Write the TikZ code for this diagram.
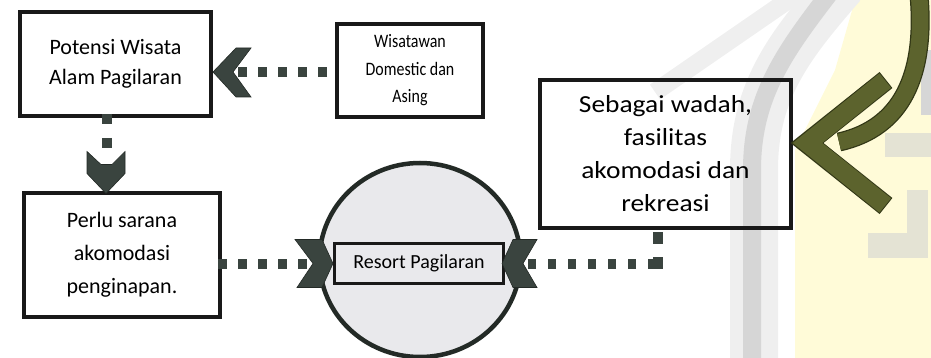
\documentclass[tikz,border=0pt]{standalone}
\usepackage{fontspec}
\setmainfont{Carlito}
\newfontfamily\widefont[FakeStretch=1.12]{Carlito}
\newfontfamily\narrowfont[FakeStretch=0.84]{Carlito}
\usetikzlibrary{calc,shapes.geometric}
\definecolor{chev}{RGB}{58,68,63}
\definecolor{chevdark}{RGB}{35,42,38}
\definecolor{olivec}{RGB}{92,99,45}
\definecolor{olivedark}{RGB}{50,55,22}
\definecolor{boxline}{RGB}{25,25,25}
\definecolor{circfill}{RGB}{233,233,236}
\definecolor{wmyellow}{RGB}{255,251,216}
\definecolor{wmgray}{RGB}{214,214,214}
\definecolor{wmlight}{RGB}{239,239,239}
\definecolor{wmtint}{RGB}{228,227,212}
\begin{document}
\begin{tikzpicture}[x=1pt,y=-1pt,
  box/.style={draw=boxline, line width=4pt, inner sep=0pt, align=center, text=black},
  dotline/.style={draw=chev, line width=10pt, dash pattern=on 9pt off 11pt},
  chevron/.style={fill=chev, draw=chevdark, line width=0.6pt, line join=miter},
  wmband/.style={line width=18pt, wmgray},
  wmwide/.style={line width=48pt, wmlight}]
\useasboundingbox (0,0) rectangle (931,358);
% watermark (background)
\fill[wmyellow] (855,0) -- (931,0) -- (931,358) -- (795,358) -- (795,150) -- (835,70) -- cycle;
\draw[wmwide] (842,-15) .. controls (790,45) and (754,90) .. (754,170) -- (754,370);
\draw[line width=18pt, wmlight] (655,92) -- (800,-8);
\draw[wmband] (832,-10) .. controls (786,50) and (752,95) .. (752,170) -- (752,370);
\fill[wmtint] (868,233) rectangle (928,258);
\fill[wmtint] (907,190) rectangle (928,240);
\fill[wmtint] (885,133) rectangle (931,157);
\fill[wmgray] (921,50) rectangle (931,115);

% nodes
\node[box, minimum width=191pt, minimum height=104pt, font=\fontsize{22}{30}\selectfont] (pw) at (115.5,64) {Potensi Wisata\\Alam Pagilaran};
\node[box, minimum width=146pt, minimum height=93pt, font=\narrowfont\fontsize{19}{27.5}\selectfont] (ws) at (410,70.5) {Wisatawan\\Domestic dan\\Asing};
\node[box, minimum width=196pt, minimum height=123pt, font=\fontsize{22}{33}\selectfont] (pe) at (122,255) {Perlu sarana\\akomodasi\\penginapan.};
\node[box, minimum width=251pt, minimum height=148pt, font=\widefont\fontsize{24.5}{33}\selectfont] (sb) at (665.5,154) {Sebagai wadah,\\fasilitas\\akomodasi dan\\rekreasi};
\node[ellipse, draw=chevdark, line width=4.5pt, fill=circfill, minimum width=201pt, minimum height=194pt] (ci) at (420,260) {};
\node[box, line width=3pt, fill=circfill, minimum width=169pt, minimum height=40pt, font=\fontsize{20}{22}\selectfont] (rp) at (419,263.5) {Resort Pagilaran};

% Wisatawan -> Potensi
\coordinate (a1) at ($(pw.east)+(0,8)$);
\draw[dotline] ($(ws.west |- a1)+(-8,0)$) -- ($(a1)+(25,0)$);
\fill[chevron] (a1) -- ++(23,-24) -- ++(15,0) -- ++(-18,24) -- ++(18,25) -- ++(-15,0) -- cycle;

% Potensi -> Perlu
\coordinate (a2) at ($(pe.north)+(-16,2)$);
\draw[dotline, dash pattern=on 10pt off 14pt] ($(pw.south)+(-8.5,-4)$) -- ++(0,34);
\fill[chevron] (a2) -- ++(-19,-20) -- ++(0,-22) -- ++(14,13) -- ++(11,0) -- ++(13,-13) -- ++(0,22) -- cycle;

% Perlu -> Resort
\coordinate (a3) at (rp.west);
\draw[dotline] ($(pe.east |- a3)+(-4,0)$) -- ($(a3)+(-26,0)$);
\fill[chevron] (a3) -- ++(-11,-24) -- ++(-27,0) -- ++(18,24) -- ++(-16,24) -- ++(25,0) -- cycle;

% Sebagai -> Resort
\coordinate (a4) at ($(rp.east)+(-3,0)$);
\coordinate (s4) at ($(sb.south)+(-7.5,2)$);
\coordinate (c4) at (s4 |- a4);
\draw[dotline, dash pattern=on 12pt off 13pt on 20pt, line join=miter] (s4) -- (c4) -- ++(-10,0);
\draw[dotline, dash pattern=on 8pt off 12pt, dash phase=8pt] ($(c4)+(-10,0)$) -- ($(a4)+(22,0)$);
\fill[chevron] (a4) -- ++(11,-24) -- ++(24,0) -- ++(-14,24) -- ++(14,24) -- ++(-24,0) -- cycle;

% green curved arrow into Sebagai
\coordinate (a5) at ($(sb.east)+(-2,-11)$);
\coordinate (g0) at (919,-5);
\draw[olivedark, line width=19pt] (g0) .. controls (926,75) and (902,128) .. ($(a5)+(48,-1)$);
\draw[olivec, line width=16.5pt] (g0) .. controls (926,75) and (902,128) .. ($(a5)+(48,-1)$);
\draw[olivedark, line width=20.5pt, line join=miter] ($(a5)+(95,-63)$) -- ($(a5)+(16,0)$) -- ($(a5)+(95,63)$);
\draw[olivec, line width=18.5pt, line join=miter] ($(a5)+(94.2,-62.4)$) -- ($(a5)+(16.5,0)$) -- ($(a5)+(94.2,62.4)$);
\end{tikzpicture}
\end{document}
